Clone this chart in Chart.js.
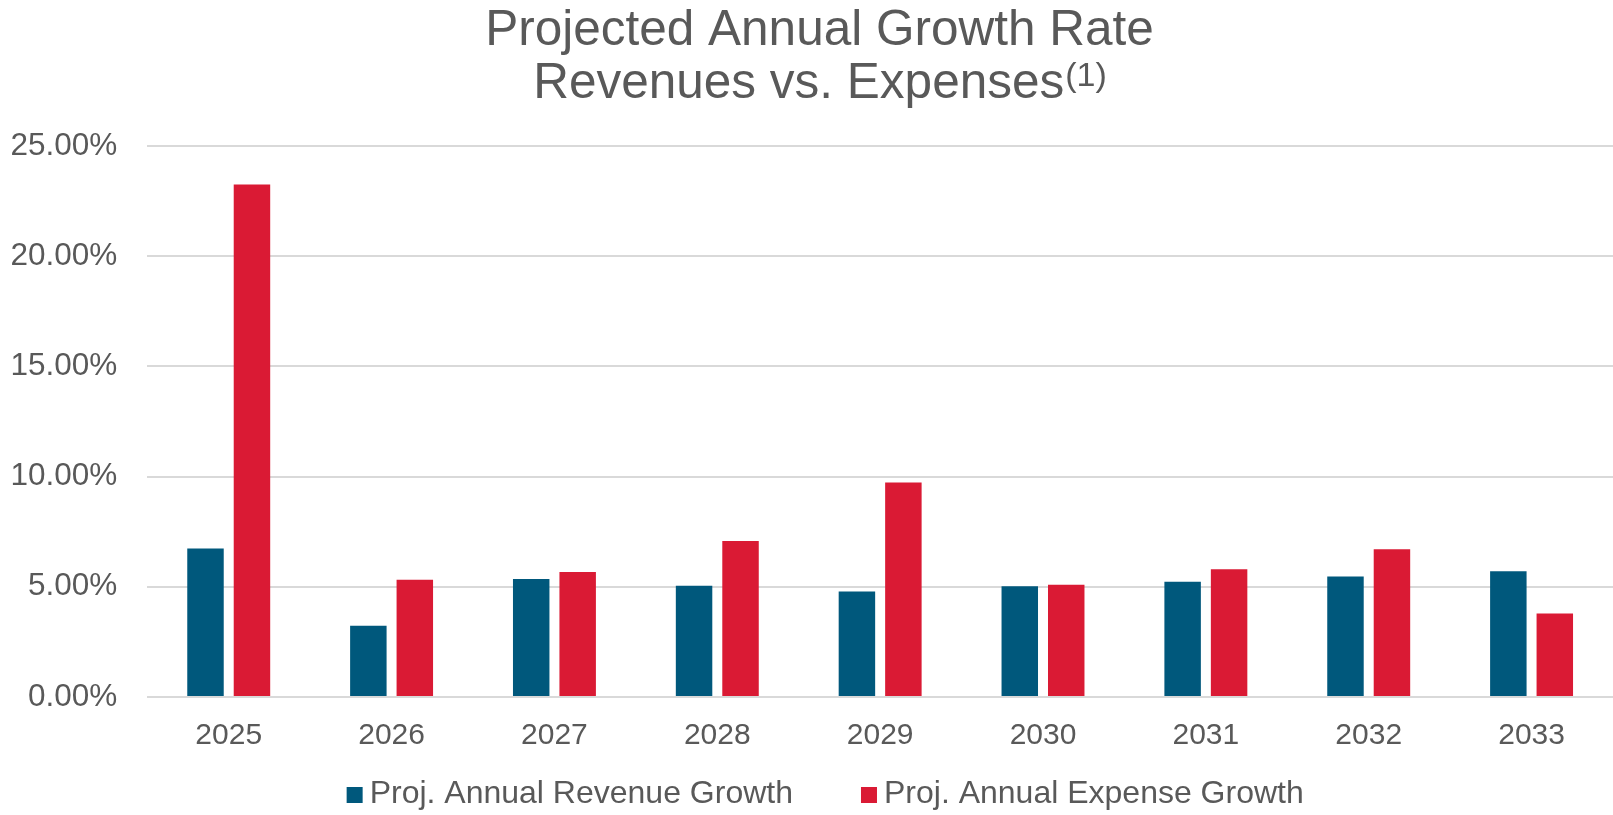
<!DOCTYPE html>
<html>
<head>
<meta charset="utf-8">
<script src="https://cdn.jsdelivr.net/npm/chart.js@4.4.1/dist/chart.umd.min.js"></script>
<style>
  html, body { margin: 0; padding: 0; background: #ffffff; }
  #wrap { width: 1613px; height: 815px; position: relative; }
  canvas { display: block; }
</style>
</head>
<body>
<div id="wrap"><canvas id="c" width="1613" height="815"></canvas></div>
<script>
const categories = ['2025', '2026', '2027', '2028', '2029', '2030', '2031', '2032', '2033'];
const revenueGrowth = [6.74, 3.23, 5.35, 5.05, 4.79, 5.02, 5.23, 5.47, 5.70];
const expenseGrowth = [23.25, 5.32, 5.67, 7.08, 9.73, 5.09, 5.80, 6.70, 3.79];
const yTicks = [0, 5, 10, 15, 20, 25];
const seriesNames = ['Proj. Annual Revenue Growth', 'Proj. Annual Expense Growth'];
const seriesColors = ['#00587C', '#DA1A34'];
const titleLine1 = 'Projected Annual Growth Rate';
const titleLine2 = 'Revenues vs. Expenses';
const titleNote = '(1)';

const FONT = '"Liberation Sans", Arial, Helvetica, sans-serif';
const TEXT = '#595959';

// Two-line title with a superscript note, drawn on the chart canvas
const titlePlugin = {
  id: 'titleWithNote',
  afterDraw(chart) {
    const ctx = chart.ctx;
    const cx = chart.width / 2 + 13;
    ctx.save();
    ctx.fillStyle = TEXT;
    ctx.textAlign = 'left';
    ctx.textBaseline = 'alphabetic';
    ctx.font = '49.5px ' + FONT;
    const w1 = ctx.measureText(titleLine1).width;
    const w2 = ctx.measureText(titleLine2).width;
    ctx.font = '34px ' + FONT;
    const wn = ctx.measureText(titleNote).width;
    const b1 = 45, b2 = 98;
    ctx.font = '49.5px ' + FONT;
    ctx.fillText(titleLine1, cx - w1 / 2, b1);
    const x2 = cx - (w2 + wn) / 2;
    ctx.fillText(titleLine2, x2, b2);
    ctx.font = '34px ' + FONT;
    ctx.fillText(titleNote, x2 + w2 + 1, b2 - 12);
    ctx.restore();
  }
};

// Legend drawn from the datasets (square marker, tight gap, wide spacing between items)
const legendPlugin = {
  id: 'bottomLegend',
  afterDraw(chart) {
    const ctx = chart.ctx;
    const box = 16, gap = 7, itemGap = 68;
    ctx.save();
    ctx.font = '32px ' + FONT;
    const items = chart.data.datasets.map(ds => ({
      text: ds.label, color: ds.backgroundColor, w: ctx.measureText(ds.label).width
    }));
    const total = items.reduce((s, it) => s + box + gap + it.w, 0) + itemGap * (items.length - 1);
    let x = chart.width / 2 + 18.7 - total / 2;
    const yMid = 794;
    ctx.textAlign = 'left';
    ctx.textBaseline = 'middle';
    items.forEach(it => {
      ctx.fillStyle = it.color;
      ctx.fillRect(x, yMid - box / 2 + 1, box, box);
      ctx.fillStyle = TEXT;
      ctx.fillText(it.text, x + box + gap, yMid);
      x += box + gap + it.w + itemGap;
    });
    ctx.restore();
  }
};

new Chart(document.getElementById('c'), {
  type: 'bar',
  data: {
    labels: categories,
    datasets: [
      {
        label: seriesNames[0],
        data: revenueGrowth,
        backgroundColor: seriesColors[0],
        borderWidth: 0,
        categoryPercentage: 0.5706,
        barPercentage: 0.785
      },
      {
        label: seriesNames[1],
        data: expenseGrowth,
        backgroundColor: seriesColors[1],
        borderWidth: 0,
        categoryPercentage: 0.5706,
        barPercentage: 0.785
      }
    ]
  },
  options: {
    responsive: false,
    animation: false,
    devicePixelRatio: 1,
    layout: { padding: { top: 146, left: 0, right: 0, bottom: 40 } },
    plugins: {
      title: { display: false },
      tooltip: { enabled: false },
      legend: { display: false }
    },
    scales: {
      x: {
        grid: { display: false, drawTicks: false },
        border: { display: false },
        ticks: { color: TEXT, font: { size: 30, family: FONT }, padding: 21, maxRotation: 0, autoSkip: false }
      },
      y: {
        min: 0,
        max: 25,
        grid: { color: '#D9D9D9', lineWidth: 2, drawTicks: false },
        border: { display: false },
        ticks: {
          color: TEXT,
          font: { size: 31.5, family: FONT },
          padding: 30,
          callback: (v) => Number(v).toFixed(2) + '%'
        },
        afterBuildTicks: (s) => { s.ticks = yTicks.map(v => ({ value: v })); },
        afterFit: (s) => { s.width = 147.3; }
      }
    }
  },
  plugins: [titlePlugin, legendPlugin]
});
</script>
</body>
</html>
